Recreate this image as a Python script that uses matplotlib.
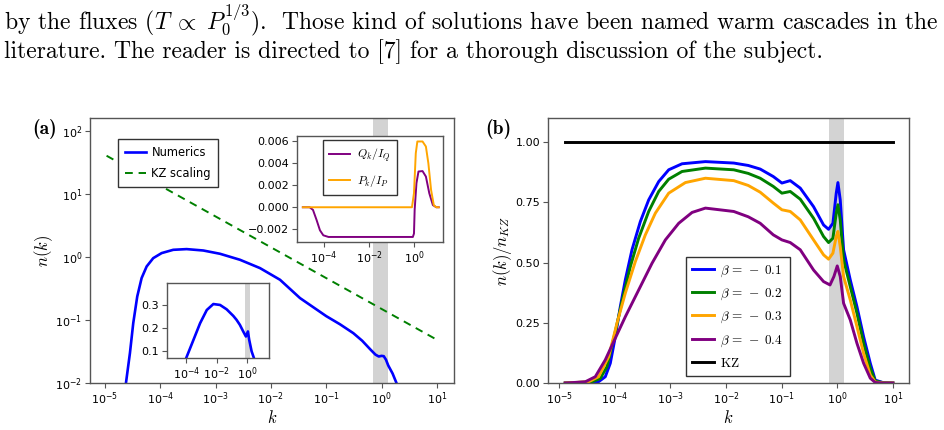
import numpy as np
import matplotlib
matplotlib.use("Agg")
import matplotlib.pyplot as plt
from matplotlib.ticker import LogLocator, NullLocator, FixedLocator

plt.rcParams['font.family'] = ['DejaVu Sans']
plt.rcParams['mathtext.fontset'] = 'dejavusans'
plt.rcParams['axes.unicode_minus'] = True

# ---------------- data ----------------
# panel (a): numerics n(k)  (log10 k, log10 n)
a_logk = [-4.62, -4.548, -4.488, -4.416, -4.337, -4.246, -4.127, -3.975, -3.765, -3.523,
          -3.222, -2.92, -2.559, -2.197, -1.835, -1.474, -1.0, -0.75, -0.51, -0.35, -0.2,
          -0.11, -0.05, 0.0, 0.04, 0.08, 0.12, 0.2, 0.27]
a_logn = [-2.0, -1.525, -1.05, -0.629, -0.337, -0.153, -0.021, 0.059, 0.111, 0.122,
          0.100, 0.048, -0.047, -0.179, -0.364, -0.654, -0.94, -1.07, -1.21, -1.33, -1.47,
          -1.55, -1.58, -1.57, -1.575, -1.63, -1.72, -1.85, -2.0]
# KZ scaling line
kz_k = [1.07e-5, 10.0]
kz_n = [40.0, 0.0485]

# inset (top right): fluxes
q_logk = [-4.94, -4.64, -4.49, -4.33, -4.18, -4.03, -3.80, -0.05, 0.0, 0.03, 0.11, 0.20,
          0.38, 0.53, 0.68, 0.84, 0.99, 1.1]
q_val = [0.0, 0.0, -0.00024, -0.00116, -0.0021, -0.00256, -0.00271, -0.00271, -0.0024,
         -0.00024, 0.0022, 0.00326, 0.0033, 0.0028, 0.00128, 0.0002, 0.0, 0.0]
p_logk = [-4.94, -0.09, 0.0, 0.08, 0.15, 0.38, 0.53, 0.64, 0.76, 0.88, 0.99, 1.1]
p_val = [0.0, 0.0, 0.00128, 0.00493, 0.006, 0.006, 0.00554, 0.004, 0.00158, 0.0002, 0.0, 0.0]

# inset (bottom left): compensated spectrum
c_logk = [-4.0, -3.52, -3.09, -2.65, -2.22, -1.78, -1.35, -0.91, -0.70, -0.48, -0.26,
          -0.085, 0.046, 0.13, 0.29, 0.44]
c_val = [0.068, 0.148, 0.220, 0.278, 0.304, 0.300, 0.281, 0.252, 0.235, 0.213, 0.184,
         0.162, 0.184, 0.148, 0.097, 0.068]

# panel (b): n(k)/n_KZ for several beta
b_logk1 = [-4.89, -4.50, -4.293, -4.17, -4.08, -3.99, -3.90, -3.81, -3.69, -3.54, -3.39,
           -3.21, -3.03, -2.79, -2.37, -1.86, -1.60, -1.385, -1.15, -0.995, -0.845, -0.665,
           -0.426, -0.246, -0.156, -0.078, -0.018, 0.012, 0.054, 0.114, 0.234, 0.354, 0.474,
           0.594, 0.683, 0.833, 1.0]
b_v1 = [0.0, 0.0, 0.005, 0.026, 0.082, 0.192, 0.317, 0.428, 0.553, 0.670, 0.760,
        0.836, 0.885, 0.910, 0.919, 0.913, 0.903, 0.888, 0.857, 0.830, 0.840, 0.809,
        0.732, 0.656, 0.638, 0.663, 0.788, 0.832, 0.760, 0.553, 0.428, 0.317, 0.192,
        0.082, 0.012, 0.001, 0.0]
b_logk2 = [-4.89, -4.41, -4.26, -4.14, -3.99, -3.87, -3.72, -3.57, -3.39, -3.21, -3.03,
           -2.79, -2.37, -1.86, -1.60, -1.385, -1.15, -0.995, -0.845, -0.665, -0.426, -0.246,
           -0.156, -0.078, -0.018, 0.012, 0.054, 0.114, 0.234, 0.354, 0.474, 0.594, 0.683,
           0.833, 1.0]
b_v2 = [0.0, 0.005, 0.019, 0.068, 0.213, 0.338, 0.483, 0.601, 0.712, 0.795, 0.846,
        0.878, 0.892, 0.885, 0.870, 0.850, 0.816, 0.788, 0.795, 0.763, 0.684, 0.608,
        0.583, 0.601, 0.705, 0.740, 0.677, 0.511, 0.400, 0.290, 0.165, 0.061, 0.008,
        0.001, 0.0]
b_logk3 = [-4.89, -4.47, -4.29, -4.11, -3.96, -3.81, -3.63, -3.45, -3.27, -3.03, -2.73,
           -2.37, -1.86, -1.60, -1.385, -1.15, -0.995, -0.845, -0.665, -0.426, -0.246,
           -0.156, -0.078, -0.018, 0.012, 0.054, 0.114, 0.234, 0.354, 0.474, 0.594, 0.683,
           0.833, 1.0]
b_v3 = [0.0, 0.005, 0.026, 0.109, 0.248, 0.373, 0.504, 0.615, 0.705, 0.788, 0.832,
        0.850, 0.840, 0.820, 0.792, 0.747, 0.719, 0.712, 0.677, 0.594, 0.532,
        0.514, 0.539, 0.608, 0.629, 0.566, 0.442, 0.345, 0.234, 0.123, 0.033, 0.004,
        0.0, 0.0]
b_logk4 = [-4.89, -4.53, -4.35, -4.17, -3.99, -3.81, -3.57, -3.33, -3.09, -2.85, -2.61,
           -2.37, -1.86, -1.60, -1.385, -1.15, -0.995, -0.845, -0.665, -0.426, -0.246,
           -0.13, -0.06, 0.0, 0.054, 0.114, 0.234, 0.354, 0.474, 0.594, 0.683, 0.833, 1.0]
b_v4 = [0.0, 0.005, 0.026, 0.096, 0.186, 0.275, 0.386, 0.497, 0.594, 0.663, 0.708,
        0.726, 0.712, 0.690, 0.663, 0.615, 0.594, 0.583, 0.553, 0.469, 0.421,
        0.407, 0.442, 0.486, 0.442, 0.331, 0.262, 0.165, 0.082, 0.020, 0.002, 0.0, 0.0]
kz_b_k = [1.3e-5, 10.0]
kz_b_v = [1.0, 1.0]

decade_ticks = [1e-5, 1e-4, 1e-3, 1e-2, 1e-1, 1e0, 1e1]
ny_ticks = [1e-2, 1e-1, 1e0, 1e1, 1e2]
beta_labels = [r'$\beta\,=\,-\;0.1$', r'$\beta\,=\,-\;0.2$', r'$\beta\,=\,-\;0.3$',
               r'$\beta\,=\,-\;0.4$']
band = (0.70, 1.33)

# ---------------- figure ----------------
W, H = 944, 430
fig = plt.figure(figsize=(W / 100, H / 100), dpi=100)

def rect(x0, y0, x1, y1):
    return [x0 / W, 1 - y1 / H, (x1 - x0) / W, (y1 - y0) / H]

spine_col = '#555555'

def style(ax, fs=8):
    for s in ax.spines.values():
        s.set_color(spine_col)
        s.set_linewidth(1.0)
    ax.tick_params(direction='out', length=3.5, width=0.8, color=spine_col,
                   labelsize=fs, pad=2)

# top paragraph text
txt_kw = dict(family='cmr10', fontsize=17.0, math_fontfamily='cm', va='baseline')
fig.text(0.004, 1 - 29 / H,
         r'by the fluxes $(T\;\propto\;P_0^{1/3})$.  Those kind of solutions have been named warm cascades in the',
         **txt_kw)
fig.text(0.004, 1 - 58 / H,
         'literature. The reader is directed to [7] for a thorough discussion of the subject.',
         **txt_kw)

# ---- panel (a)
ax = fig.add_axes(rect(90, 118, 454, 383))
ax.axvspan(*band, color='#d3d3d3', lw=0, zorder=0)
ax.plot(10 ** np.array(a_logk), 10 ** np.array(a_logn), color='#0000ff', lw=1.9,
        label='Numerics')
ax.plot(kz_k, kz_n, color='green', ls=(0, (4, 3)), lw=1.4, label='KZ scaling')
ax.set_xscale('log')
ax.set_yscale('log')
ax.set_xlim(10 ** -5.27, 10 ** 1.31)
ax.set_ylim(1e-2, 10 ** 2.2)
ax.xaxis.set_major_locator(FixedLocator(decade_ticks))
ax.yaxis.set_major_locator(FixedLocator(ny_ticks))
ax.xaxis.set_minor_locator(NullLocator())
ax.yaxis.set_minor_locator(NullLocator())
style(ax)
ax.set_xlabel(r'$k$', fontsize=12, math_fontfamily='cm', labelpad=1)
ax.set_ylabel(r'$n(k)$', fontsize=12, math_fontfamily='cm', labelpad=0)
leg = ax.legend(loc='upper left', bbox_to_anchor=(0.077, 0.921), borderaxespad=0,
                prop={'family': 'DejaVu Sans', 'size': 8.3},
                fancybox=False, edgecolor='#333333', framealpha=1,
                handlelength=1.8, handletextpad=0.5, borderpad=0.6, labelspacing=0.75)
leg.get_frame().set_linewidth(1.0)
fig.text(32 / W, 1 - 134 / H, '(a)', family='cmb10', fontsize=14)

# inset top-right
ai = fig.add_axes(rect(297, 136, 443, 242))
ai.plot(10 ** np.array(q_logk), q_val, color='purple', lw=1.4, label=r'$Q_k/I_Q$')
ai.plot(10 ** np.array(p_logk), p_val, color='orange', lw=1.4, label=r'$P_k/I_P$')
ai.set_xscale('log')
ai.set_xlim(10 ** -5.2, 10 ** 1.29)
ai.set_ylim(-0.00317, 0.0065)
ai.set_xticks([1e-4, 1e-2, 1e0])
ai.xaxis.set_minor_locator(NullLocator())
ai.set_yticks([-0.002, 0.0, 0.002, 0.004, 0.006])
ai.set_yticklabels(['\u22120.002', '0.000', '0.002', '0.004', '0.006'])
style(ai, fs=8)
lg2 = ai.legend(loc='upper left', bbox_to_anchor=(0.178, 0.962), borderaxespad=0,
                prop={'size': 8.5, 'math_fontfamily': 'cm'},
                fancybox=False, edgecolor='#333333', framealpha=1, handlelength=1.7,
                handletextpad=0.6, borderpad=0.55, labelspacing=0.75)
lg2.get_frame().set_linewidth(1.0)

# inset bottom-left
ac = fig.add_axes(rect(167, 283, 269, 358))
ac.axvspan(0.75, 1.45, color='#d3d3d3', lw=0, zorder=0)
ac.plot(10 ** np.array(c_logk), c_val, color='#0000ff', lw=1.9)
ac.set_xscale('log')
ac.set_xlim(10 ** -5.26, 10 ** 1.43)
ac.set_ylim(0.068, 0.396)
ac.set_xticks([1e-4, 1e-2, 1e0])
ac.xaxis.set_minor_locator(NullLocator())
ac.set_yticks([0.1, 0.2, 0.3])
style(ac, fs=8)

# ---- panel (b)
bx = fig.add_axes(rect(548, 118, 909, 383))
bx.axvspan(*band, color='#d3d3d3', lw=0, zorder=0)
cols = ['#0000ff', 'green', 'orange', 'purple']
for lk, v, c, lab in zip([b_logk1, b_logk2, b_logk3, b_logk4], [b_v1, b_v2, b_v3, b_v4],
                         cols, beta_labels):
    bx.plot(10 ** np.array(lk), v, color=c, lw=2.1, label=lab)
bx.plot(kz_b_k, kz_b_v, color='black', lw=2.1, label=r'$\mathrm{KZ}$')
bx.set_xscale('log')
bx.set_xlim(10 ** -5.2, 10 ** 1.29)
bx.set_ylim(0, 1.10)
bx.xaxis.set_major_locator(FixedLocator(decade_ticks))
bx.xaxis.set_minor_locator(NullLocator())
bx.set_yticks([0, 0.25, 0.5, 0.75, 1.0])
bx.set_yticklabels(['0.00', '0.25', '0.50', '0.75', '1.00'])
style(bx)
bx.set_xlabel(r'$k$', fontsize=12, math_fontfamily='cm', labelpad=1)
bx.set_ylabel(r'$n(k)/n_{KZ}$', fontsize=12, math_fontfamily='cm', labelpad=1)
lg3 = bx.legend(loc='lower left', bbox_to_anchor=(0.382, 0.026), borderaxespad=0,
                prop={'size': 9.5, 'math_fontfamily': 'cm'},
                fancybox=False, edgecolor='#333333', framealpha=1, handlelength=1.6,
                handletextpad=0.5, borderpad=0.5, labelspacing=0.6)
lg3.get_frame().set_linewidth(1.0)
fig.text(485 / W, 1 - 134 / H, '(b)', family='cmb10', fontsize=14)

fig.savefig('out.png', dpi=100)
